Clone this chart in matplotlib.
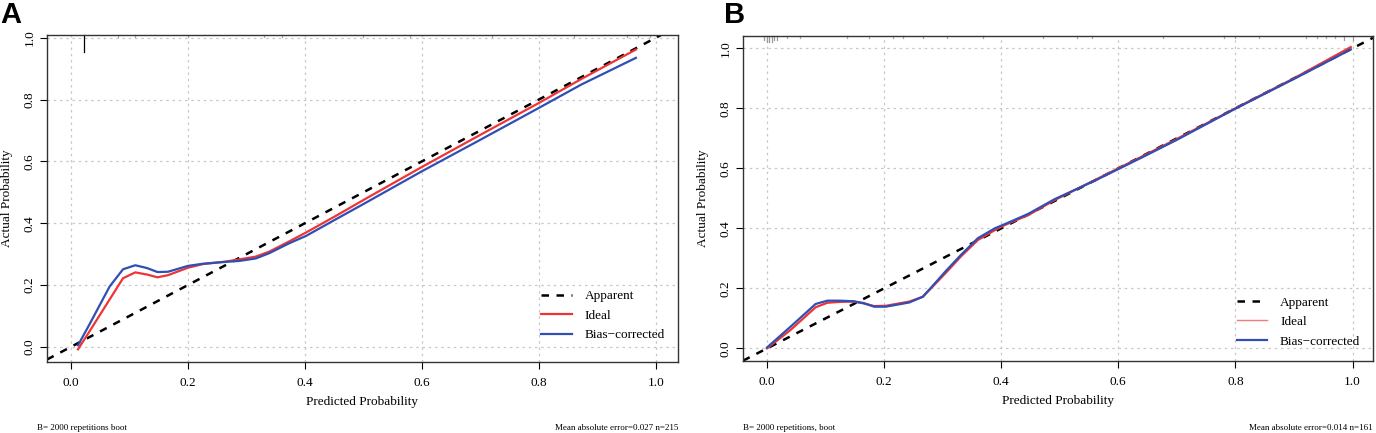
import numpy as np
import matplotlib
matplotlib.use("Agg")
import matplotlib.pyplot as plt
from matplotlib.lines import Line2D

plt.rcParams['font.family'] = ['Liberation Serif', 'DejaVu Serif']

# panel A : calibration curve (n=215)
a_pred = [0.012, 0.03, 0.05, 0.066, 0.089, 0.11, 0.13, 0.148, 0.166, 0.2, 0.226, 0.265,
          0.288, 0.316, 0.339, 0.373, 0.402, 0.456, 0.5, 0.6, 0.7, 0.8, 0.873, 0.966]
a_ideal = [-0.008, 0.045, 0.105, 0.153, 0.222, 0.241, 0.234, 0.225, 0.232, 0.256, 0.268, 0.276,
           0.283, 0.292, 0.308, 0.341, 0.370, 0.427, 0.475, 0.582, 0.686, 0.789, 0.867, 0.962]
a_bias = [0.005, 0.067, 0.138, 0.195, 0.251, 0.264, 0.255, 0.242, 0.243, 0.262, 0.269, 0.275,
          0.278, 0.286, 0.303, 0.335, 0.359, 0.416, 0.462, 0.568, 0.670, 0.773, 0.849, 0.935]
a_rug = [0.022, 0.08, 0.11, 0.2, 0.33, 0.36, 0.5, 0.58, 0.72, 0.86, 0.95, 0.97, 0.99]
a_rug_n = [8, 1, 1, 1, 1, 1, 1, 1, 1, 1, 1, 1, 1]

# panel B : calibration curve (n=161)
b_pred = [0.0, 0.04, 0.083, 0.103, 0.125, 0.148, 0.165, 0.183, 0.203, 0.243, 0.266, 0.28, 0.306,
          0.331, 0.36, 0.389, 0.406, 0.446, 0.491, 0.56, 0.64, 0.7, 0.8, 0.9, 0.997]
b_ideal = [0.0, 0.061, 0.137, 0.152, 0.155, 0.156, 0.15, 0.141, 0.142, 0.156, 0.172, 0.2, 0.253,
           0.306, 0.361, 0.394, 0.411, 0.444, 0.494, 0.561, 0.639, 0.698, 0.8, 0.9, 1.004]
b_bias = [0.003, 0.072, 0.148, 0.159, 0.159, 0.157, 0.151, 0.139, 0.139, 0.153, 0.172, 0.202, 0.259,
          0.311, 0.367, 0.4, 0.414, 0.448, 0.497, 0.559, 0.636, 0.695, 0.799, 0.898, 0.996]
b_rug = [-0.005, 0.0, 0.004, 0.008, 0.012, 0.017, 0.034, 0.056, 0.136, 0.175, 0.215, 0.232, 0.266,
         0.307, 0.369, 0.472, 0.529, 0.555, 0.677, 0.78, 0.8, 0.84, 0.92, 0.94, 0.955, 0.97, 0.985, 1.0]
b_rug_n = [2, 3, 3, 3, 2, 2, 1, 1, 1, 1, 1, 1, 1,
           1, 1, 1, 1, 1, 1, 1, 1, 1, 1, 1, 1, 1, 2, 2]

ticks = [0.0, 0.2, 0.4, 0.6, 0.8, 1.0]
red = '#ee3535'
blue = '#2f4fb5'

fig = plt.figure(figsize=(13.76, 4.33), dpi=100)
W, H = 1376.0, 433.0


def make_axes(l, r, t, b):
    return fig.add_axes([l / W, 1 - b / H, (r - l) / W, (b - t) / H])


def calib(ax, pred, ideal, bias, rug, rug_n, rug_col, rug_len, xlim, ylim, ideal_lw_leg, leg_pos):
    ax.set_xlim(xlim)
    ax.set_ylim(ylim)
    for t in ticks:
        ax.axvline(t, color='#c8c8c8', lw=0.9, ls=(0, (2, 3)), zorder=0)
        ax.axhline(t, color='#c8c8c8', lw=0.9, ls=(0, (2, 3)), zorder=0)
    ax.axline((0, 0), (1, 1), color='black', lw=1.8, ls=(0, (3, 3)), zorder=2)
    ax.plot(pred, ideal, color=red, lw=1.6, zorder=3)
    ax.plot(pred, bias, color=blue, lw=1.6, zorder=4)
    trans = ax.get_xaxis_transform()
    for x, n in zip(rug, rug_n):
        c = rug_col if n > 1 else '#aaaaaa'
        ax.plot([x, x], [1, 1 - rug_len * n], color=c, lw=0.9, transform=trans, clip_on=False)
    ax.set_xticks(ticks)
    ax.set_yticks(ticks)
    ax.set_xticklabels([f'{t:.1f}' for t in ticks])
    ax.set_yticklabels([f'{t:.1f}' for t in ticks], rotation=90, va='center')
    ax.tick_params(direction='out', length=5, width=0.8, labelsize=9.5)
    ax.tick_params(axis='x', pad=6)
    ax.tick_params(axis='y', pad=3)
    for s in ax.spines.values():
        s.set_linewidth(1.0)
        s.set_color('#333333')
    ax.set_xlabel('Predicted Probability', fontsize=9.5, labelpad=5)
    ax.set_ylabel('Actual Probability', fontsize=9.5, labelpad=8)
    handles = [Line2D([], [], color='black', lw=1.8, ls=(0, (3, 3))),
               Line2D([], [], color=red if ideal_lw_leg > 1 else '#f47a7a', lw=ideal_lw_leg),
               Line2D([], [], color=blue, lw=1.6)]
    ax.legend(handles, ['Apparent', 'Ideal', 'Bias\u2212corrected'], loc='lower left',
              bbox_to_anchor=leg_pos, frameon=False, fontsize=9.5, handlelength=2.3,
              handletextpad=1.0, labelspacing=0.55, borderaxespad=0)


axA = make_axes(47, 678, 35, 362)
calib(axA, a_pred, a_ideal, a_bias, a_rug, a_rug_n, 'black', 0.0065, (-0.041, 1.038), (-0.049, 1.009),
      1.6, (0.775, 0.047))
axB = make_axes(743, 1373, 36, 361)
calib(axB, b_pred, b_ideal, b_bias, b_rug, b_rug_n, '#999999', 0.006, (-0.041, 1.035), (-0.042, 1.041),
      1.0, (0.775, 0.025))

fig.text(0 / W, 1 - 1 / H, 'A', fontsize=21, fontweight='bold', family='Liberation Sans', va='top')
fig.text(724 / W, 1 - 1 / H, 'B', fontsize=21, fontweight='bold', family='Liberation Sans', va='top')

fig.text(37 / W, 1 - 428 / H, 'B= 2000 repetitions boot', fontsize=6.5, va='center')
fig.text(678 / W, 1 - 428 / H, 'Mean absolute error=0.027 n=215', fontsize=6.5, va='center', ha='right')
fig.text(743 / W, 1 - 428 / H, 'B= 2000 repetitions, boot', fontsize=6.5, va='center')
fig.text(1373 / W, 1 - 428 / H, 'Mean absolute error=0.014 n=161', fontsize=6.5, va='center', ha='right')

fig.savefig('out.png', dpi=100)
